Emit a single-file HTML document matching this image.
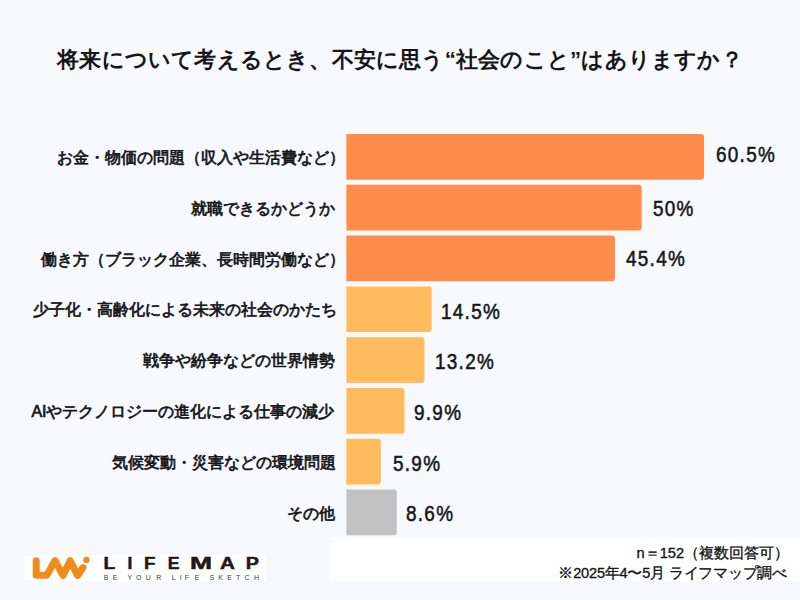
<!DOCTYPE html>
<html lang="ja">
<head>
<meta charset="utf-8">
<style>
html,body{margin:0;padding:0;}
body{width:800px;height:600px;overflow:hidden;background:#f7f9fd;position:relative;font-family:"Liberation Sans",sans-serif;color:#161616;}
.title{position:absolute;left:0;width:800px;top:44.5px;text-align:center;font-size:22.25px;font-weight:bold;letter-spacing:0.2px;white-space:nowrap;}
.lab{position:absolute;font-size:16px;-webkit-text-stroke:0.7px #161616;white-space:nowrap;text-align:right;}
.val{position:absolute;font-size:22px;letter-spacing:1.5px;white-space:nowrap;-webkit-text-stroke:0.55px #161616;transform:scaleX(0.86);transform-origin:0 0;}
.wbox{position:absolute;background:#fff;}
.note{position:absolute;font-size:14.6px;-webkit-text-stroke:0.35px #161616;white-space:nowrap;text-align:right;}
svg{position:absolute;left:0;top:0;}
</style>
</head>
<body>
<svg width="800" height="600" viewBox="0 0 800 600">
<g fill="#ff8c4b">
<path d="M346.4 134H701a3 3 0 0 1 3 3V176.7a3 3 0 0 1-3 3H346.4Z"/>
<path d="M346.4 184.8H638.7a3 3 0 0 1 3 3V227.5a3 3 0 0 1-3 3H346.4Z"/>
<path d="M346.4 235.6H612a3 3 0 0 1 3 3V278.3a3 3 0 0 1-3 3H346.4Z"/>
</g>
<g fill="#ffbb5c">
<path d="M346.4 286.4H428.7a3 3 0 0 1 3 3V329.1a3 3 0 0 1-3 3H346.4Z"/>
<path d="M346.4 337.2H421.5a3 3 0 0 1 3 3V379.9a3 3 0 0 1-3 3H346.4Z"/>
<path d="M346.4 388H401.5a3 3 0 0 1 3 3V430.7a3 3 0 0 1-3 3H346.4Z"/>
<path d="M346.4 438.8H377.9a3 3 0 0 1 3 3V481.5a3 3 0 0 1-3 3H346.4Z"/>
</g>
<path fill="#c2c2c2" d="M346.4 489.6H393.8a3 3 0 0 1 3 3V532.3a3 3 0 0 1-3 3H346.4Z"/>
</svg>

<div class="title">将来について考えるとき、不安に思う“社会のこと”はありますか？</div>

<div class="lab" style="top:148px;right:455.25px">お金・物価の問題（収入や生活費など）</div>
<div class="lab" style="top:198.8px;right:464.9px">就職できるかどうか</div>
<div class="lab" style="top:249.6px;right:455.1px">働き方（ブラック企業、長時間労働など）</div>
<div class="lab" style="top:300.4px;right:463px">少子化・高齢化による未来の社会のかたち</div>
<div class="lab" style="top:351.2px;right:464.8px">戦争や紛争などの世界情勢</div>
<div class="lab" style="top:402px;right:465.5px">AIやテクノロジーの進化による仕事の減少</div>
<div class="lab" style="top:452.8px;right:464.4px">気候変動・災害などの環境問題</div>
<div class="lab" style="top:503.6px;right:465px">その他</div>

<div class="val" style="top:142px;left:716px">60.5%</div>
<div class="val" style="top:196px;left:653px">50%</div>
<div class="val" style="top:246px;left:626px">45.4%</div>
<div class="val" style="top:299px;left:441px">14.5%</div>
<div class="val" style="top:349px;left:435px">13.2%</div>
<div class="val" style="top:400px;left:414px">9.9%</div>
<div class="val" style="top:451px;left:393px">5.9%</div>
<div class="val" style="top:501px;left:406px">8.6%</div>

<div class="wbox" style="left:330px;top:537px;width:470px;height:44px"></div>
<div class="note" style="top:544px;right:11px">n＝152（複数回答可）</div>
<div class="note" style="top:564px;right:13px;letter-spacing:-0.22px">※2025年4〜5月 ライフマップ調べ</div>

<div class="wbox" style="left:24.5px;top:555px;width:241.8px;height:26px"></div>
<svg width="800" height="600" viewBox="0 0 800 600">
<path d="M36.2 560.7V575.3H46.8L55 560.6L63 575.4L70.2 560.6L77.6 575.4L83 567.6" fill="none" stroke="#f08c1e" stroke-width="7" stroke-linecap="round" stroke-linejoin="round"/>
<circle cx="86.4" cy="560" r="3.2" fill="#f08c1e"/>
<g font-family="Liberation Sans" font-weight="bold" font-size="17" fill="#231815" stroke="#231815" stroke-width="0.5">
<text transform="translate(103.56 569.2) scale(1.135 1)">L</text>
<text transform="translate(127.39 569.2) scale(1.021 1)">I</text>
<text transform="translate(144.00 569.2) scale(1.102 1)">F</text>
<text transform="translate(167.77 569.2) scale(1.038 1)">E</text>
<text transform="translate(190.08 569.2) scale(1.556 1)">M</text>
<text transform="translate(220.03 569.2) scale(1.219 1)">A</text>
<text transform="translate(245.63 569.2) scale(1.164 1)">P</text>
</g>
<text x="103.73 112.73 117.73 127.58 135.91 145.78 156.23 161.23 171.73 179.73 184.73 194.63 199.63 209.70 218.13 227.33 235.92 244.41 254.03" y="579.8" font-family="Liberation Sans" font-size="7" fill="#403a38">BE YOUR LIFE SKETCH</text>
</svg>
</body>
</html>
